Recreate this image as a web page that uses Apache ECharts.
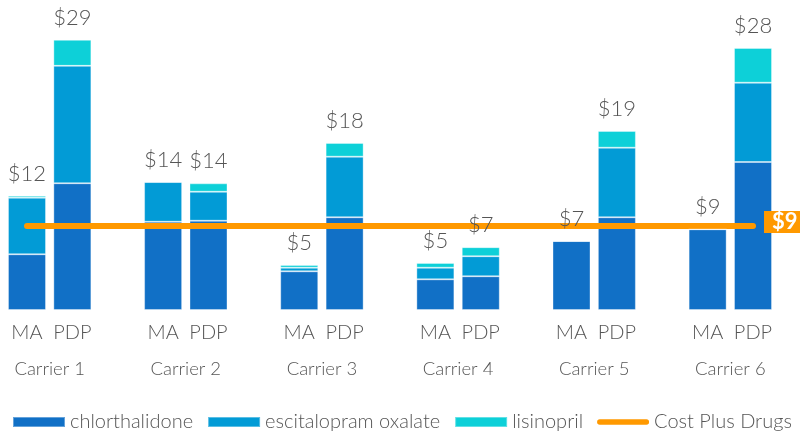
<!DOCTYPE html>
<html>
<head>
<meta charset="utf-8">
<script src="https://cdn.jsdelivr.net/npm/echarts@6/dist/echarts.min.js"></script>
<style>
  html, body { margin: 0; padding: 0; background: #fff; }
  #chart { width: 800px; height: 433px; }
</style>
</head>
<body>
<div id="chart"></div>
<script>
var carriers = ['Carrier 1', 'Carrier 2', 'Carrier 3', 'Carrier 4', 'Carrier 5', 'Carrier 6'];
var planTypes = ['MA', 'PDP'];

// per carrier: [MA, PDP]
var chlorthalidone = [[5.98, 13.6], [9.47, 9.58], [4.15, 9.95], [3.29, 3.62], [7.4, 9.95], [8.66, 15.88]];
var escitalopram = [[6.07, 12.6], [4.26, 3.11], [0.39, 6.5], [1.25, 2.15], [0, 7.47], [0, 8.51]];
var lisinopril = [[0.21, 2.79], [0, 0.9], [0.29, 1.47], [0.5, 0.97], [0, 1.79], [0, 3.72]];
var costPlus = 9;

var slots = [];
carriers.forEach(function (c, i) {
    slots.push(planTypes[0], planTypes[1]);
    if (i < carriers.length - 1) slots.push('');
});

function spread(arr) {
    var out = [];
    arr.forEach(function (pair, i) {
        out.push(pair[0], pair[1]);
        if (i < arr.length - 1) out.push('-');
    });
    return out;
}

var totals = spread(chlorthalidone.map(function (p, i) {
    return [p[0] + escitalopram[i][0] + lisinopril[i][0], p[1] + escitalopram[i][1] + lisinopril[i][1]];
}));

var carrierTicks = carriers.map(function (c, i) { return i * 3 + 0.5; });

var font = 'Lato, "Open Sans", sans-serif';
var barBorder = { borderColor: 'rgba(255,255,255,0.35)', borderWidth: 1 };
var pill = 'path://M3,0 L54,0 A3,3 0 0 1 54,6 L3,6 A3,3 0 0 1 3,0 Z';

var myChart = echarts.init(document.getElementById('chart'));

var option = {
    animation: false,
    textStyle: { fontFamily: font },
    grid: { left: 4.3, right: 24.3, top: 30.4, bottom: 123 },
    legend: {
        left: 7,
        top: 407,
        itemWidth: 52,
        itemHeight: 10,
        itemGap: 14,
        textStyle: { fontSize: 20, color: '#555', fontWeight: 300, fontFamily: font },
        data: [
            { name: 'chlorthalidone', icon: 'rect' },
            { name: 'escitalopram oxalate', icon: 'rect' },
            { name: 'lisinopril', icon: 'rect' },
            { name: 'Cost Plus Drugs', icon: pill, itemStyle: { color: '#FF9900' } }
        ]
    },
    xAxis: [
        {
            type: 'category',
            data: slots,
            axisLine: { show: false },
            axisTick: { show: false },
            axisLabel: { margin: 13, fontSize: 20, color: '#555', fontWeight: 300, interval: 0 }
        },
        {
            type: 'value',
            min: -0.5,
            max: 16.5,
            position: 'bottom',
            offset: 36,
            axisLine: { show: false },
            axisTick: { show: false },
            splitLine: { show: false },
            axisLabel: {
                margin: 14,
                fontSize: 18.5,
                color: '#555',
                fontWeight: 300,
                customValues: carrierTicks,
                formatter: function (v) {
                    return carriers[Math.round((v - 0.5) / 3)];
                }
            }
        }
    ],
    yAxis: {
        type: 'value',
        min: 0,
        max: 30,
        show: false
    },
    series: [
        {
            name: 'chlorthalidone',
            type: 'bar',
            stack: 'cost',
            barWidth: 38,
            itemStyle: Object.assign({ color: '#1170C6' }, barBorder),
            data: spread(chlorthalidone)
        },
        {
            name: 'escitalopram oxalate',
            type: 'bar',
            stack: 'cost',
            barWidth: 38,
            itemStyle: Object.assign({ color: '#029BD6' }, barBorder),
            data: spread(escitalopram)
        },
        {
            name: 'lisinopril',
            type: 'bar',
            stack: 'cost',
            barWidth: 38,
            z: 6,
            itemStyle: Object.assign({ color: '#0DD0D8' }, barBorder),
            label: {
                show: true,
                position: 'top',
                distance: 11,
                fontSize: 22,
                color: '#555',
                fontWeight: 300,
                formatter: function (p) {
                    return '$' + Math.round(totals[p.dataIndex]);
                }
            },
            data: spread(lisinopril)
        },
        {
            name: 'Cost Plus Drugs',
            type: 'line',
            symbol: 'none',
            z: 5,
            color: '#FF9900',
            lineStyle: { width: 6, color: '#FF9900', cap: 'round' },
            endLabel: {
                show: true,
                distance: 11,
                offset: [0, -4],
                backgroundColor: '#FF9900',
                color: '#fff',
                fontWeight: 'bold',
                fontSize: 22,
                padding: [0, 8, 0, 8],
                formatter: function () { return '$' + costPlus; }
            },
            data: [[0, costPlus], [slots.length - 1, costPlus]]
        }
    ]
};

myChart.setOption(option);
</script>
</body>
</html>
